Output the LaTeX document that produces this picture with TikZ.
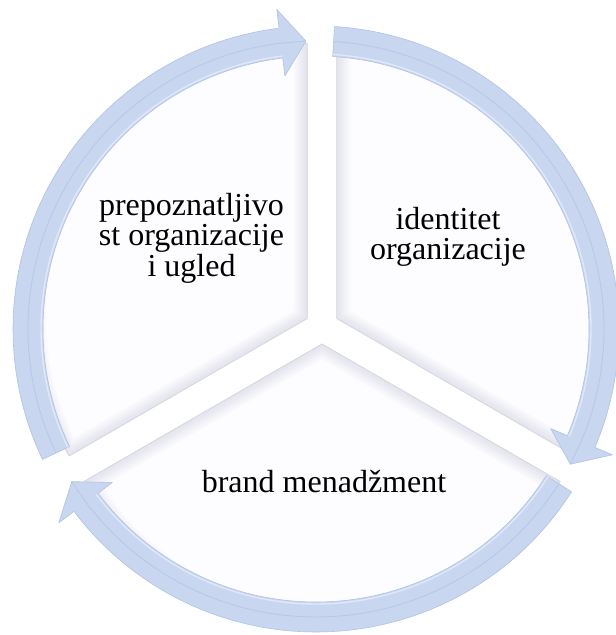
\documentclass[tikz,border=0pt]{standalone}
\usepackage{fontspec}
\setmainfont{Liberation Serif}
\definecolor{bandfill}{RGB}{200,214,240}
\definecolor{bandedge}{RGB}{176,194,228}
\definecolor{bandmid}{RGB}{184,201,232}
\definecolor{bandlight}{RGB}{224,232,248}
\definecolor{secfill}{RGB}{253,253,255}
\definecolor{secedge}{RGB}{214,214,224}
\definecolor{secshade}{RGB}{150,150,178}
\tikzset{
  cyclearrow/.style={fill=bandfill, draw=bandedge, line width=0.6pt, line join=round},
  sectorbox/.style={fill=secfill},
  segtext/.style={font=\fontsize{32}{30.5}\selectfont, align=center, inner sep=0pt, text=black}
}
\newcommand\drawsector[3]{%
  \fill[secfill] (#1) -- ++(#2:275) arc[start angle=#2, end angle=#3, radius=275] -- cycle;
  \begin{scope}
    \clip (#1) -- ++(#2:275) arc[start angle=#2, end angle=#3, radius=275] -- cycle;
    \foreach \w in {3,6,...,27}{
      \draw[secshade, opacity=0.025, line width=\w pt, line join=round]
        (#1) -- ++(#2:275) arc[start angle=#2, end angle=#3, radius=275] -- cycle;
    }
  \end{scope}
  \draw[secedge, line width=0.8pt, line join=round]
    (#1) -- ++(#2:275) arc[start angle=#2, end angle=#3, radius=275] -- cycle;
}
\newcommand\drawcyclearrow[3]{%
  \path[cyclearrow] (#1:303) arc[start angle=#1, end angle=#2, radius=303]
    -- (#2:322) -- (#3:288) -- (#2:255) -- (#2:273)
    arc[start angle=#2, end angle=#1, radius=273] -- cycle;
  \draw[bandlight, line width=1.4pt] (#1:275) arc[start angle=#1, end angle=#2, radius=275];
  \draw[bandmid, line width=0.9pt] (#1:288) arc[start angle=#1, end angle=#2, radius=288] -- (#3:288);
}
\begin{document}
\begin{tikzpicture}[x=1pt, y=1pt]
  \useasboundingbox (-316,-306) rectangle (300,329);
  \fill[white] (-316,-306) rectangle (300,329);
  % pie centre and exploded sector apexes
  \coordinate (cl) at (-8.7,10.5);
  \coordinate (cr) at (20.7,10.5);
  \coordinate (cb) at (6,-15);
  \drawsector{cl}{90}{210}
  \drawsector{cr}{-30}{90}
  \drawsector{cb}{210}{330}
  % circular arrows
  \drawcyclearrow{205.5}{97}{92}
  \drawcyclearrow{86.5}{-23}{-28}
  \drawcyclearrow{-32.5}{-143}{-148}
  % texts
  \node[segtext] (tl) at (-124.5,91) {prepoznatljivo\\st organizacije\\i ugled};
  \node[segtext] (tr) at (132,92.2) {identitet\\organizacije};
  \node[segtext] (bt) at (8,-153) {brand menadžment};
\end{tikzpicture}
\end{document}
